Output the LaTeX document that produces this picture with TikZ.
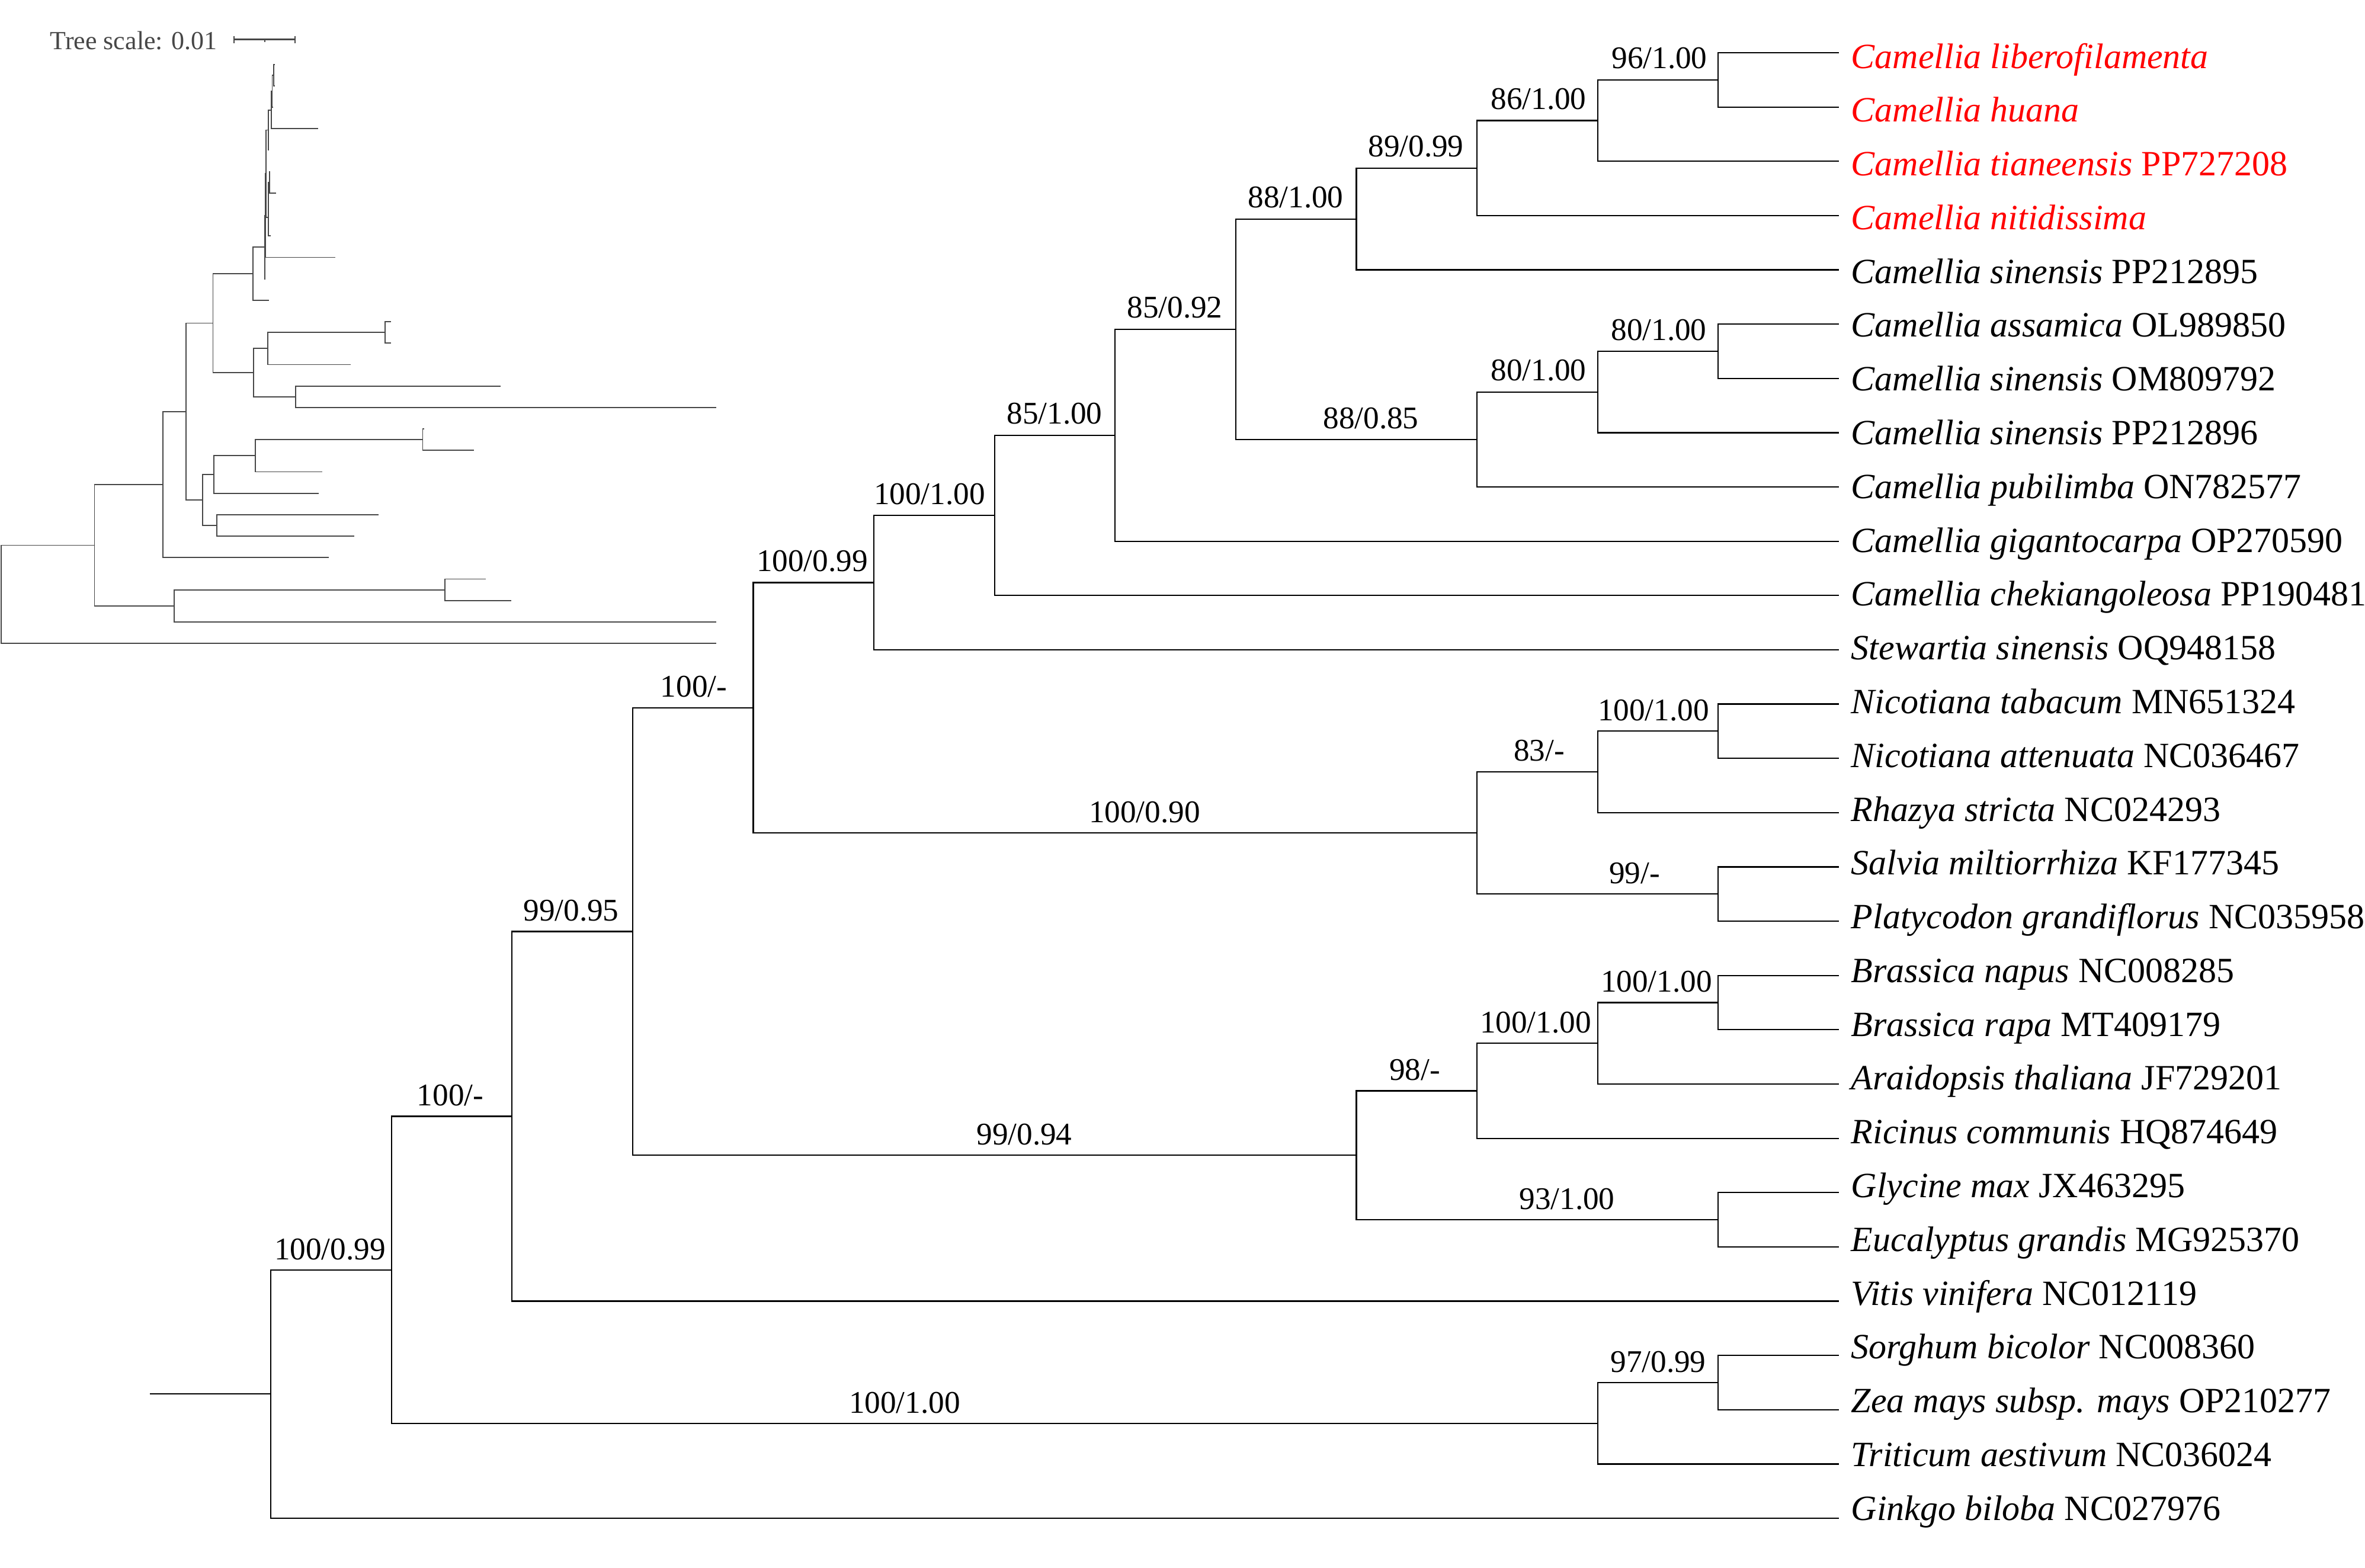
\documentclass[tikz,border=0pt]{standalone}
\usepackage{fontspec}
\setmainfont{Liberation Serif}
\tikzset{
  branch/.style={line width=0.55pt, black, line join=miter},
  ibranch/.style={line width=0.45pt, black!72, line join=miter},
  taxon/.style={anchor=base west, inner sep=0pt, xshift=5pt, font=\fontsize{15}{18}\selectfont},
  support/.style={anchor=base, inner sep=0pt, font=\fontsize{13.3}{16}\selectfont},
}
\def\edgelist{root/n26,root/L27,n26/n23,n26/n24,n23/n17,n23/L23,n17/n12,n17/n18,n12/n11,n12/n13,n11/n10,n11/L11,n10/n9,n10/L10,n9/n5,n9/L9,n5/n4,n5/n6,n4/n3,n4/L4,n3/n2,n3/L3,n2/n1,n2/L2,n1/L0,n1/L1,n6/n7,n6/L8,n7/n8,n7/L7,n8/L5,n8/L6,n13/n14,n13/n15,n14/n16,n14/L14,n16/L12,n16/L13,n15/L15,n15/L16,n18/n19,n18/n20,n19/n21,n19/L20,n21/n22,n21/L19,n22/L17,n22/L18,n20/L21,n20/L22,n24/n25,n24/L26,n25/L24,n25/L25}
\begin{document}
\begin{tikzpicture}
\useasboundingbox (0,0) rectangle (998pt,-661.5pt);
% ---------------- main tree ----------------
\begin{scope}[x=0.25pt,y=-22.9075pt,yshift=-22.25pt]
  \foreach \i in {0,...,27} \coordinate (m-L\i) at (3104,\i);
  \foreach \n/\xx/\yy in {root/457/24.7113,n26/660.6/22.4226,n23/864.2/19.5952,n24/2696.6/25.25,n25/2900.2/24.5,
    n17/1067.8/16.1904,n12/1271.4/12.0684,n18/2289.4/20.3125,n19/2493/19.125,n20/2900.2/21.5,n21/2696.6/18.25,n22/2900.2/17.5,
    n11/1475/9.7617,n13/2493/14.375,n14/2696.6/13.25,n15/2900.2/15.5,n16/2900.2/12.5,n10/1678.6/8.5234,n9/1882.2/7.0469,
    n5/2085.8/5.0938,n4/2289.4/3.0625,n3/2493/2.125,n2/2696.6/1.25,n1/2900.2/0.5,n6/2493/7.125,n7/2696.6/6.25,n8/2900.2/5.5}
    \coordinate (m-\n) at (\xx,\yy);
  \coordinate (m-stub) at (253,24.7113);
  \draw[branch] (m-stub) -- (m-root);
  \foreach \p/\c in \edgelist \draw[branch] (m-\p) |- (m-\c);
  % support values
  \foreach \n/\cx/\yy/\lab in {n1/2801/0.5/96\slash 1.00,n2/2597/1.25/86\slash 1.00,n3/2390/2.125/89\slash 0.99,
    n4/2187/3.0625/88\slash 1.00,n5/1983/5.0938/85\slash 0.92,n6/2314/7.125/88\slash 0.85,n7/2597/6.25/80\slash 1.00,
    n8/2800/5.5/80\slash 1.00,n9/1780/7.0469/85\slash 1.00,n10/1569/8.5234/100\slash 1.00,n11/1371/9.7617/100\slash 0.99,
    n12/1171/12.0684/100\slash -,n13/1932/14.375/100\slash 0.90,n14/2598/13.25/83\slash -,n15/2759/15.5/99\slash -,
    n16/2791/12.5/100\slash 1.00,n17/964/16.1904/99\slash 0.95,n18/1729/20.3125/99\slash 0.94,n19/2388/19.125/98\slash -,
    n20/2645/21.5/93\slash 1.00,n21/2592/18.25/100\slash 1.00,n22/2796/17.5/100\slash 1.00,n23/760/19.5952/100\slash -,
    n24/1527/25.25/100\slash 1.00,n25/2799/24.5/97\slash 0.99,n26/557/22.4226/100\slash 0.99}
    \node[support, yshift={(19.5-0.1*\yy)*0.25pt}] (s-\n) at (\cx,\yy) {\lab};
  % taxa
  \foreach \i/\txt in {0/{\textit{Camellia liberofilamenta}},1/{\textit{Camellia huana}},
    2/{\textit{Camellia tianeensis} PP727208},3/{\textit{Camellia nitidissima}}}
    \node[taxon, text=red, yshift={(-26+0.845*\i)*0.25pt}] (t\i) at (m-L\i) {\txt};
  \foreach \i/\txt in {4/{\textit{Camellia sinensis} PP212895},5/{\textit{Camellia assamica} OL989850},
    6/{\textit{Camellia sinensis} OM809792},7/{\textit{Camellia sinensis} PP212896},
    8/{\textit{Camellia pubilimba} ON782577},9/{\textit{Camellia gigantocarpa} OP270590},
    10/{\textit{Camellia chekiangoleosa} PP190481},11/{\textit{Stewartia sinensis} OQ948158},
    12/{\textit{Nicotiana tabacum} MN651324},13/{\textit{Nicotiana attenuata} NC036467},
    14/{\textit{Rhazya stricta} NC024293},15/{\textit{Salvia miltiorrhiza} KF177345},
    16/{\textit{Platycodon grandiflorus} NC035958},17/{\textit{Brassica napus} NC008285},
    18/{\textit{Brassica rapa} MT409179},19/{\textit{Araidopsis thaliana} JF729201},
    20/{\textit{Ricinus communis} HQ874649},21/{\textit{Glycine max} JX463295},
    22/{\textit{Eucalyptus grandis} MG925370},23/{\textit{Vitis vinifera} NC012119},
    24/{\textit{Sorghum bicolor} NC008360},25/{\textit{Zea mays subsp. mays} OP210277},
    26/{\textit{Triticum aestivum} NC036024},27/{\textit{Ginkgo biloba} NC027976}}
    \node[taxon, yshift={(-26+0.845*\i)*0.25pt}] (t\i) at (m-L\i) {\txt};
\end{scope}
% ---------------- inset tree (branch lengths) ----------------
\begin{scope}[x=0.25pt,y=-9.05pt,yshift=-27.175pt]
  \foreach \i/\xx in {0/463.5,1/463.5,2/460.5,3/537.3,4/454,5/456,6/466,7/454,8/457,9/566,10/448,11/454.4,
    12/660,13/660,14/592.3,15/845,16/1209.3,17/715.5,18/800.4,19/543.7,20/538,21/639.3,22/597.9,23/554.8,
    24/819.5,25/862.6,26/1209.3,27/1209.3}
    \coordinate (i-L\i) at (\xx,\i);
  \foreach \n/\xx/\yy in {root/2.4/24.7113,n26/159.4/22.4226,n23/275/19.5952,n24/294.2/25.25,n25/751/24.5,
    n17/314/16.1904,n12/359.5/12.0684,n18/342/20.3125,n19/361/19.125,n20/366/21.5,n21/431.3/18.25,n22/713.5/17.5,
    n11/427/9.7617,n13/428/14.375,n14/452/13.25,n15/499/15.5,n16/649.7/12.5,n10/447/8.5234,n9/448/7.0469,
    n5/449/5.0938,n4/452.7/3.0625,n3/458.3/2.125,n2/459.5/1.25,n1/462/0.5,n6/452.7/7.125,n7/453.3/6.25,n8/455/5.5}
    \coordinate (i-\n) at (\xx,\yy);
  \foreach \p/\c in \edgelist \draw[ibranch] (i-\p) |- (i-\c);
\end{scope}
% ---------------- scale bar ----------------
\begin{scope}[x=0.25pt,y=-0.25pt]
  \node[anchor=base west, inner sep=0pt, text=black!72, font=\fontsize{11}{13}\selectfont] (scaletext) at (84,83) {Tree scale: 0.01};
  \coordinate (sb-l) at (395,66.6);
  \coordinate (sb-r) at (498,66.6);
  \coordinate (sb-m) at (446.5,66.6);
  \draw[black!72, line width=0.6pt] (sb-l) -- (sb-r);
  \draw[black!72, line width=0.6pt] ([yshift=1.5pt]sb-l) -- ([yshift=-1.5pt]sb-l);
  \draw[black!72, line width=0.6pt] ([yshift=1.5pt]sb-r) -- ([yshift=-1.5pt]sb-r);
  \draw[black!72, line width=0.5pt] (sb-m) -- ([yshift=-1pt]sb-m);
\end{scope}
\end{tikzpicture}
\end{document}
